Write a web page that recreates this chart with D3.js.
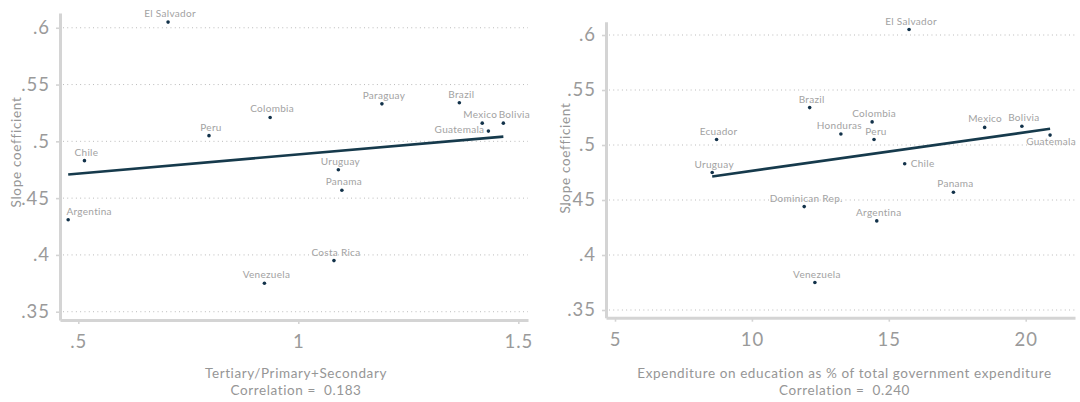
<!DOCTYPE html>
<html>
<head>
<meta charset="utf-8">
<script src="https://cdn.jsdelivr.net/npm/d3@7"></script>
<style>
  html, body { margin: 0; padding: 0; background: #fff; }
  svg { display: block; font-family: Lato, "Open Sans", sans-serif; }
</style>
</head>
<body>
<svg id="chart" width="1080" height="402"></svg>
<script>
// Slope coefficients by country (y), against two education indicators (x)
const leftCountries = ["El Salvador", "Chile", "Peru", "Colombia", "Paraguay", "Brazil", "Mexico",
  "Bolivia", "Guatemala", "Uruguay", "Panama", "Argentina", "Venezuela", "Costa Rica"];
const leftX = [0.704, 0.514, 0.797, 0.936, 1.190, 1.366, 1.418, 1.466, 1.432, 1.091, 1.099, 0.477, 0.923, 1.081];
const leftY = [0.605, 0.483, 0.505, 0.521, 0.533, 0.534, 0.516, 0.516, 0.509, 0.475, 0.457, 0.431, 0.375, 0.395];

const rightCountries = ["El Salvador", "Ecuador", "Uruguay", "Brazil", "Colombia", "Honduras", "Peru",
  "Mexico", "Bolivia", "Guatemala", "Chile", "Panama", "Dominican Rep.", "Argentina", "Venezuela"];
const rightX = [15.74, 8.71, 8.55, 12.11, 14.39, 13.25, 14.46, 18.50, 19.86, 20.89, 15.58, 17.36, 11.91, 14.56, 12.30];
const rightY = [0.605, 0.505, 0.475, 0.534, 0.521, 0.510, 0.505, 0.516, 0.517, 0.509, 0.483, 0.457, 0.444, 0.431, 0.375];

const yTicks = [0.35, 0.4, 0.45, 0.5, 0.55, 0.6];
const yTickLabels = [".35", ".4", ".45", ".5", ".55", ".6"];
const leftXTicks = [0.5, 1, 1.5];
const leftXTickLabels = [".5", "1", "1.5"];
const rightXTicks = [5, 10, 15, 20];
const rightXTickLabels = ["5", "10", "15", "20"];

const yTitle = "Slope coefficient";
const leftXTitle = "Tertiary/Primary+Secondary";
const rightXTitle = "Expenditure on education as % of total government expenditure";
const leftCorr = "0.183";
const rightCorr = "0.240";

// Marker label placement: default is centred above the point
const leftLabelPlace = {
  "Argentina": { pos: "above", dx: 19 },
  "Mexico": { pos: "above", dx: -4 },
  "Bolivia": { pos: "above", dx: 9 },
  "Guatemala": { pos: "left" }
};
const rightLabelPlace = {
  "Honduras": { pos: "above", dx: -3.5 },
  "Mexico": { pos: "above", dx: -1.5 },
  "Guatemala": { pos: "below" },
  "Chile": { pos: "right" }
};

const COL = {
  axis: "#d4d4d4",
  grid: "#ababab",
  tick: "#9a9a9a",
  title: "#969696",
  label: "#a2a2a2",
  dot: "#12324a",
  fit: "#163a4c"
};

const svg = d3.select("#chart");

function ols(xs, ys) {
  const mx = d3.mean(xs), my = d3.mean(ys);
  let sxy = 0, sxx = 0;
  xs.forEach((x, i) => { sxy += (x - mx) * (ys[i] - my); sxx += (x - mx) * (x - mx); });
  const b = sxy / sxx;
  return { a: my - b * mx, b };
}

function panel(cfg) {
  const g = svg.append("g");
  const x = d3.scaleLinear().domain(cfg.xDomain).range([cfg.x0, cfg.x1]);
  const y = d3.scaleLinear().domain(cfg.yDomain).range([cfg.y1, cfg.y0]);

  // dotted grid at the y ticks
  g.append("g").selectAll("line").data(yTicks).join("line")
    .attr("x1", cfg.x0 + 3).attr("x2", cfg.x1)
    .attr("y1", d => y(d)).attr("y2", d => y(d))
    .attr("stroke", COL.grid).attr("stroke-width", 0.9)
    .attr("stroke-dasharray", "0.9,3.4");

  // y axis
  const ya = g.append("g").attr("transform", `translate(${cfg.x0},0)`)
    .call(d3.axisLeft(y).tickValues(yTicks).tickFormat((d, i) => yTickLabels[i])
      .tickSize(4).tickSizeOuter(0).tickPadding(6));
  // x axis
  const xa = g.append("g").attr("transform", `translate(0,${cfg.y1})`)
    .call(d3.axisBottom(x).tickValues(cfg.xTicks).tickFormat((d, i) => cfg.xTickLabels[i])
      .tickSize(4).tickSizeOuter(0).tickPadding(11));
  [ya, xa].forEach(a => {
    a.select(".domain").attr("stroke", COL.axis).attr("stroke-width", 3);
    a.selectAll(".tick line").attr("stroke", COL.axis).attr("stroke-width", 1.6);
    a.selectAll(".tick text").attr("fill", COL.tick)
      .style("font-size", "18.5px").style("font-family", "Lato, sans-serif")
      .style("letter-spacing", "1px");
  });

  // fitted line across the range of x
  const fit = ols(cfg.xs, cfg.ys);
  const xr = d3.extent(cfg.xs);
  g.append("line")
    .attr("x1", x(xr[0])).attr("y1", y(fit.a + fit.b * xr[0]))
    .attr("x2", x(xr[1])).attr("y2", y(fit.a + fit.b * xr[1]))
    .attr("stroke", COL.fit).attr("stroke-width", 2.6);

  // points
  g.append("g").selectAll("circle").data(cfg.names).join("circle")
    .attr("cx", (d, i) => x(cfg.xs[i])).attr("cy", (d, i) => y(cfg.ys[i]))
    .attr("r", 1.8).attr("fill", COL.dot);

  // point labels
  g.append("g").selectAll("text").data(cfg.names).join("text")
    .each(function (d, i) {
      const p = cfg.place[d] || { pos: "above" };
      const px = x(cfg.xs[i]), py = y(cfg.ys[i]);
      const t = d3.select(this);
      if (p.pos === "left") {
        t.attr("x", px - 4).attr("y", py + 1.5).attr("text-anchor", "end");
      } else if (p.pos === "right") {
        t.attr("x", px + 6).attr("y", py + 3.5).attr("text-anchor", "start");
      } else if (p.pos === "below") {
        t.attr("x", px + 1).attr("y", py + 9.5).attr("text-anchor", "middle");
      } else {
        t.attr("x", px + 2 + (p.dx || 0)).attr("y", py - 5).attr("text-anchor", "middle");
      }
    })
    .attr("fill", COL.label).style("font-size", "10px").style("letter-spacing", "0.3px")
    .text(d => d);

  // titles
  g.append("text")
    .attr("transform", `translate(${cfg.yTitleX},${cfg.yTitleY}) rotate(-90)`)
    .attr("text-anchor", "middle").attr("fill", COL.title)
    .style("font-size", "13.5px").style("letter-spacing", "0.7px")
    .text(yTitle);
  const cx = (cfg.x0 + cfg.x1) / 2 + cfg.titleDx;
  g.append("text").attr("x", cx).attr("y", 378).attr("text-anchor", "middle")
    .attr("fill", COL.title).style("font-size", "13.5px").style("letter-spacing", "0.6px")
    .text(cfg.xTitle);
  g.append("text").attr("x", cx).attr("y", 395).attr("text-anchor", "middle")
    .attr("fill", COL.title).style("font-size", "13.5px").style("letter-spacing", "0.6px")
    .attr("xml:space", "preserve")
    .text("Correlation =  " + cfg.corr);
}

panel({
  x0: 60, x1: 528, y0: 13, y1: 320,
  xDomain: [0.4584, 1.522], yDomain: [0.3427, 0.613],
  xTicks: leftXTicks, xTickLabels: leftXTickLabels,
  xs: leftX, ys: leftY, names: leftCountries, place: leftLabelPlace,
  xTitle: leftXTitle, corr: leftCorr, titleDx: 2,
  yTitleX: 20.5, yTitleY: 152
});

panel({
  x0: 606, x1: 1075, y0: 21.7, y1: 317.7,
  xDomain: [4.671, 21.8], yDomain: [0.343, 0.6121],
  xTicks: rightXTicks, xTickLabels: rightXTickLabels,
  xs: rightX, ys: rightY, names: rightCountries, place: rightLabelPlace,
  xTitle: rightXTitle, corr: rightCorr, titleDx: 4,
  yTitleX: 569.5, yTitleY: 158
});
</script>
</body>
</html>
